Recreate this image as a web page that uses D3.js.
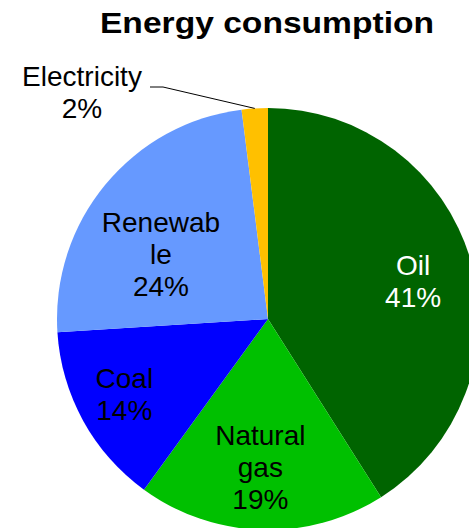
<!DOCTYPE html>
<html>
<head>
<meta charset="utf-8">
<script src="https://cdn.jsdelivr.net/npm/d3@7"></script>
<style>
  body { margin: 0; background: #fff; }
  text { font-family: "Liberation Sans", Arial, sans-serif; }
</style>
</head>
<body>
<div class="chart"></div>
<script>
// Chart data
const categories = ['Oil', 'Natural gas', 'Coal', 'Renewable', 'Electricity']
const shares = [41, 19, 14, 24, 2]
const labelLines = [['Oil'], ['Natural', 'gas'], ['Coal'], ['Renewab', 'le'], ['Electricity']]
const colors = ['#006400', '#00c000', '#0000ff', '#6699ff', '#ffc000']
const textColors = ['#ffffff', '#000000', '#000000', '#000000', '#000000']

const width = 469
const height = 528
const cx = 268, cy = 319, radius = 211

const svg = d3.select('.chart')
    .append('svg')
    .attr('width', width)
    .attr('height', height)

// Title
svg.append('text')
    .attr('text-anchor', 'middle')
    .attr('font-size', 30)
    .attr('font-weight', 'bold')
    .attr('transform', 'translate(267,33) scale(1.12,1)')
    .text('Energy consumption')

const data = categories.map((c, i) => ({ name: c, value: shares[i], i: i }))

const pie = d3.pie().sort(null).value(d => d.value)
const arcs = pie(data)

const arc = d3.arc().innerRadius(0).outerRadius(radius)
const labelArc = d3.arc().innerRadius(148).outerRadius(148)
const edgeArc = d3.arc().innerRadius(radius).outerRadius(radius)

const g = svg.append('g')
    .attr('transform', 'translate(' + cx + ',' + cy + ')')

g.selectAll('path')
    .data(arcs)
    .enter()
    .append('path')
    .attr('d', arc)
    .attr('fill', d => colors[d.data.i])

// nudges so labels sit where the original puts them
const nudge = [[3, 3], [-3, 0], [-14, 4], [7, 30]]
const fontSize = 28
const lineH = 32

arcs.slice(0, 4).forEach((d, k) => {
    let c = labelArc.centroid(d)
    let x = c[0] + nudge[k][0]
    let y = c[1] + nudge[k][1]
    let lines = labelLines[k].concat([d.data.value + '%'])
    let t = g.append('text')
        .attr('text-anchor', 'middle')
        .attr('font-size', fontSize)
        .attr('fill', textColors[k])
    lines.forEach((l, j) => {
        t.append('tspan')
            .attr('x', x)
            .attr('y', y - (lines.length - 1) * lineH / 2 + 0.35 * fontSize + j * lineH)
            .text(l)
    })
})

// Electricity label outside with leader line
let el = arcs[4]
let edge = edgeArc.centroid(el)
let lx = 82 - cx, ly = 92 - cy
let t = g.append('text')
    .attr('text-anchor', 'middle')
    .attr('font-size', fontSize)
    .attr('fill', textColors[4])
;[labelLines[4][0], el.data.value + '%'].forEach((l, j) => {
    t.append('tspan')
        .attr('x', lx)
        .attr('y', ly - lineH / 2 + 0.35 * fontSize + j * lineH)
        .text(l)
})
g.append('polyline')
    .attr('points', [[150 - cx, 87 - cy], [163 - cx, 87 - cy], edge].map(p => p.join(',')).join(' '))
    .attr('fill', 'none')
    .attr('stroke', '#000')
    .attr('stroke-width', 1)
</script>
</body>
</html>
